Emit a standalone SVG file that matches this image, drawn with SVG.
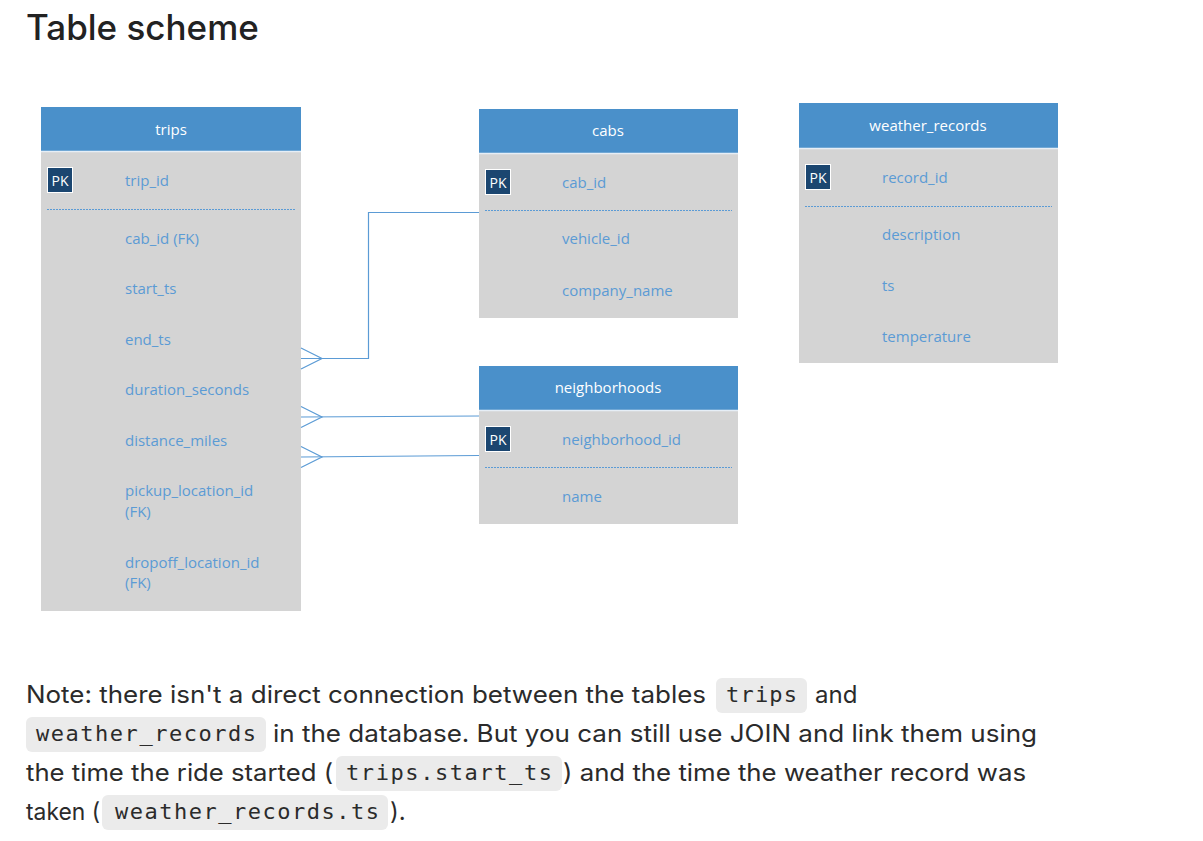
<svg xmlns="http://www.w3.org/2000/svg" width="1203" height="841" viewBox="0 0 1203 841">
<style>
.hdr{fill:#4a90ca}
.body{fill:#d4d4d4}
.htxt{font-family:"Open Sans","Liberation Sans",sans-serif;font-size:15px;fill:#ffffff;text-anchor:middle;dominant-baseline:central}
.ftxt{font-family:"Open Sans","Liberation Sans",sans-serif;font-size:15px;fill:#5b9bd5;dominant-baseline:central}
.pk{fill:#1b4670;stroke:#ffffff;stroke-width:1}
.pktxt{font-family:"Open Sans","Liberation Sans",sans-serif;font-size:14px;fill:#ffffff;text-anchor:middle;dominant-baseline:central}
.sep{stroke:#5b9bd5;stroke-width:1;stroke-dasharray:2 1}
.hline{stroke:#e6eef6;stroke-width:1.5}
.conn{fill:none;stroke:#5b9bd5;stroke-width:1.2}
.note{font-family:Inter,"Liberation Sans",sans-serif;font-size:24px;fill:#2b2b2b}
.code{font-family:"DejaVu Sans Mono","Liberation Mono",monospace;font-size:22px;fill:#2b2b2b}
.cbg{fill:#ebebeb}
</style>
<rect width="1203" height="841" fill="#ffffff"/>
<text x="26" y="40" font-family="Inter, 'Liberation Sans', sans-serif" font-size="35" font-weight="500" fill="#222222">Table scheme</text>

<g id="trips">
<rect class="body" x="41" y="151" width="260" height="460"/>
<rect class="hdr" x="41" y="107" width="260" height="44"/>
<line class="hline" x1="41" y1="151.5" x2="301" y2="151.5"/>
<text class="htxt" x="171" y="129">trips</text>
<rect class="pk" x="47.5" y="167.5" width="25" height="25"/>
<text class="pktxt" x="60" y="180">PK</text>
<text class="ftxt" x="125" y="180">trip_id</text>
<line class="sep" x1="47" y1="209.5" x2="295" y2="209.5"/>
<text class="ftxt" x="125" y="238">cab_id (FK)</text>
<text class="ftxt" x="125" y="288">start_ts</text>
<text class="ftxt" x="125" y="339">end_ts</text>
<text class="ftxt" x="125" y="389">duration_seconds</text>
<text class="ftxt" x="125" y="440">distance_miles</text>
<text class="ftxt" x="125" y="490">pickup_location_id</text>
<text class="ftxt" x="125" y="511">(FK)</text>
<text class="ftxt" x="125" y="562">dropoff_location_id</text>
<text class="ftxt" x="125" y="582">(FK)</text>
</g>

<g id="cabs">
<rect class="body" x="479" y="153" width="259" height="165"/>
<rect class="hdr" x="479" y="109" width="259" height="44"/>
<line class="hline" x1="479" y1="153.5" x2="738" y2="153.5"/>
<text class="htxt" x="608" y="130">cabs</text>
<rect class="pk" x="485.5" y="169.5" width="25" height="25"/>
<text class="pktxt" x="498" y="182">PK</text>
<text class="ftxt" x="562" y="182">cab_id</text>
<line class="sep" x1="485" y1="210.5" x2="732" y2="210.5"/>
<text class="ftxt" x="562" y="238">vehicle_id</text>
<text class="ftxt" x="562" y="290">company_name</text>
</g>

<g id="neighborhoods">
<rect class="body" x="479" y="410" width="259" height="114"/>
<rect class="hdr" x="479" y="366" width="259" height="44"/>
<line class="hline" x1="479" y1="410.5" x2="738" y2="410.5"/>
<text class="htxt" x="608" y="387">neighborhoods</text>
<rect class="pk" x="485.5" y="426.5" width="25" height="25"/>
<text class="pktxt" x="498" y="439">PK</text>
<text class="ftxt" x="562" y="439">neighborhood_id</text>
<line class="sep" x1="485" y1="467.5" x2="732" y2="467.5"/>
<text class="ftxt" x="562" y="496">name</text>
</g>

<g id="weather_records">
<rect class="body" x="799" y="148" width="259" height="215"/>
<rect class="hdr" x="799" y="103" width="259" height="45"/>
<line class="hline" x1="799" y1="148.5" x2="1058" y2="148.5"/>
<text class="htxt" x="928" y="125">weather_records</text>
<rect class="pk" x="805.5" y="164.5" width="25" height="25"/>
<text class="pktxt" x="818" y="177">PK</text>
<text class="ftxt" x="882" y="177">record_id</text>
<line class="sep" x1="805" y1="206.5" x2="1052" y2="206.5"/>
<text class="ftxt" x="882" y="234">description</text>
<text class="ftxt" x="882" y="285">ts</text>
<text class="ftxt" x="882" y="336">temperature</text>
</g>

<g id="connectors">
<polyline class="conn" points="479,212.5 368.5,212.5 368.5,358.5 301,358.5"/>
<polyline class="conn" points="301,348 322,358.5 301,369"/>
<polyline class="conn" points="301,417 479,416"/>
<polyline class="conn" points="301,406.5 322,417 301,427.5"/>
<polyline class="conn" points="301,457 479,455.5"/>
<polyline class="conn" points="301,446.5 322,457 301,467.5"/>
</g>

<g id="note">
<rect class="cbg" x="716" y="678" width="91" height="35" rx="6"/>
<rect class="cbg" x="26" y="717" width="240" height="35" rx="6"/>
<rect class="cbg" x="336" y="756" width="226" height="35" rx="6"/>
<rect class="cbg" x="102" y="795" width="286" height="35" rx="6"/>
<text class="note" x="26" y="703" textLength="680" lengthAdjust="spacingAndGlyphs">Note: there isn't a direct connection between the tables</text>
<text class="code" x="726" y="702" textLength="71">trips</text>
<text class="note" x="815" y="703">and</text>
<text class="code" x="36" y="741" textLength="220">weather_records</text>
<text class="note" x="273" y="742" textLength="764" lengthAdjust="spacingAndGlyphs">in the database. But you can still use JOIN and link them using</text>
<text class="note" x="26" y="781" textLength="307" lengthAdjust="spacingAndGlyphs">the time the ride started (</text>
<text class="code" x="346" y="780" textLength="206">trips.start_ts</text>
<text class="note" x="563" y="781" textLength="463" lengthAdjust="spacingAndGlyphs">) and the time the weather record was</text>
<text class="note" x="26" y="820" textLength="74" lengthAdjust="spacingAndGlyphs">taken (</text>
<text class="code" x="115" y="819" textLength="264">weather_records.ts</text>
<text class="note" x="390" y="820">).</text>
</g>
</svg>
